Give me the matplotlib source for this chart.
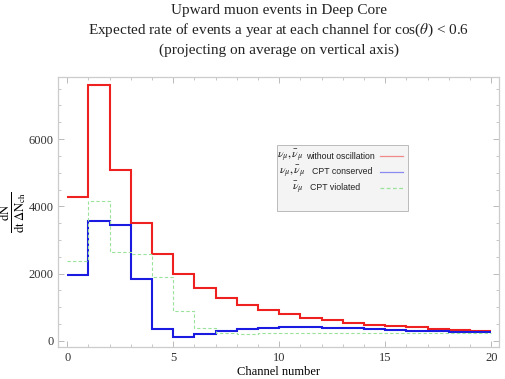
import numpy as np
import matplotlib
matplotlib.use("Agg")
import matplotlib.pyplot as plt
from matplotlib.patches import Rectangle
from matplotlib.ticker import MultipleLocator

plt.rcParams['font.family'] = ['Liberation Serif', 'DejaVu Serif']
plt.rcParams['mathtext.fontset'] = 'stix'

# channel edges and expected events per bin
edges = np.arange(0, 21)
no_osc = [4280, 7620, 5080, 3500, 2570, 1990, 1580, 1280, 1070, 910,
          790, 680, 610, 540, 480, 440, 400, 360, 330, 300]
cpt_cons = [1970, 3550, 3450, 1830, 360, 120, 190, 280, 350, 390,
            400, 400, 390, 370, 345, 320, 300, 280, 265, 250]
cpt_viol = [2380, 4150, 2650, 2580, 1900, 880, 370, 230, 190, 230,
            240, 240, 240, 240, 240, 240, 240, 240, 240, 240]

leg_syms = [r"$\nu_\mu,\bar{\nu}_\mu$", r"$\nu_\mu,\bar{\nu}_\mu$", r"$\bar{\nu}_\mu$"]
leg_texts = ["without oscillation", "CPT conserved", "CPT violated"]

W, H = 506, 379
fig = plt.figure(figsize=(5.06, 3.79), dpi=100)
ax = fig.add_axes([58.3 / W, 1 - 347.3 / H, 441 / W, 270.6 / H])

ax.stairs(no_osc, edges, baseline=None, color='#ee2020', lw=1.5)
ax.stairs(cpt_cons, edges, baseline=None, color='#1a1ae0', lw=1.5)
ax.stairs(cpt_viol, edges, baseline=None, color='#9be39b', lw=0.8, ls=(0, (3, 2)))

ax.set_xlim(-0.42, 20.38)
ax.set_ylim(-196, 7857)

ax.xaxis.set_major_locator(MultipleLocator(5))
ax.xaxis.set_minor_locator(MultipleLocator(1))
ax.yaxis.set_major_locator(MultipleLocator(2000))
ax.yaxis.set_minor_locator(MultipleLocator(500))
ax.tick_params(which='both', direction='in', top=True, right=True, color='#b0b0b0',
               labelsize=9, labelcolor='#333333')
ax.tick_params(which='major', length=4, width=0.6)
ax.tick_params(which='minor', length=2, width=0.5)
for s in ax.spines.values():
    s.set_color('#cccccc')
    s.set_linewidth(0.9)

ax.set_xlabel("Channel number", fontsize=9, labelpad=1)
ax.set_ylabel(r"$\frac{\mathrm{dN}}{\mathrm{dt}\;\Delta\mathrm{N}_{\mathrm{ch}}}$", fontsize=13, labelpad=0)

fig.text(278.8 / W, 1 - 4 / H,
         "Upward muon events in Deep Core\n"
         r"Expected rate of events a year at each channel for cos($\theta$) < 0.6" "\n"
         "(projecting on average on vertical axis)",
         ha='center', va='top', fontsize=11, linespacing=1.42, color='#222222')

# Mathematica-style legend: centred labels, sample line on the right
ax.add_patch(Rectangle((0.496, 0.504), 0.297, 0.244, transform=ax.transAxes,
                       facecolor='#f4f4f4', edgecolor='#bbbbbb', lw=0.7, zorder=5))
leg_colors = ['#f08a8a', '#8a8af0', '#9be39b']
leg_styles = ['-', '-', (0, (3, 2))]
gaps = [2, 6, 6]
renderer = fig.canvas.get_renderer()
for i in range(3):
    yb = 1 - (158.5 + i * 15.9) / H
    ts = fig.text(0, yb, leg_syms[i], fontsize=8.5, va='baseline', color='#222222')
    tt = fig.text(0, yb, leg_texts[i], family='Liberation Sans', fontsize=6.3,
                  va='baseline', color='#222222')
    w1 = ts.get_window_extent(renderer).width
    w2 = tt.get_window_extent(renderer).width
    x0 = 326 - (w1 + gaps[i] + w2) / 2
    ts.set_x(x0 / W)
    tt.set_x((x0 + w1 + gaps[i]) / W)
    yy = 0.707 - i * 0.0585
    ax.plot([0.729, 0.782], [yy, yy], transform=ax.transAxes, color=leg_colors[i],
            lw=0.9, ls=leg_styles[i], zorder=6)

fig.savefig("out.png", dpi=100)
